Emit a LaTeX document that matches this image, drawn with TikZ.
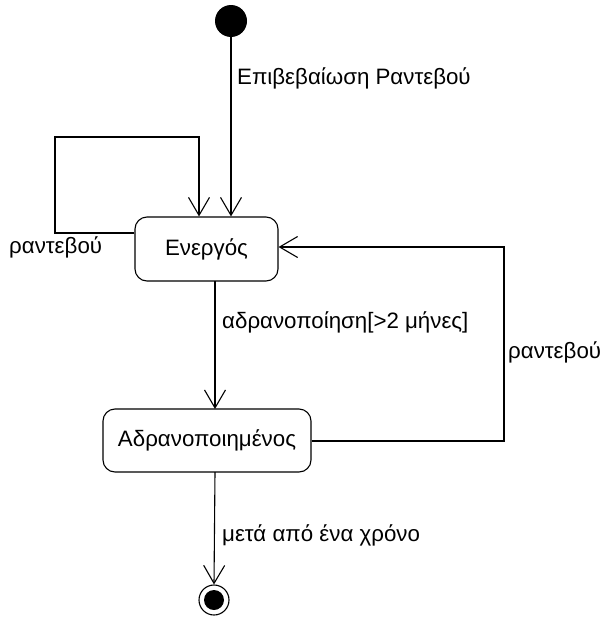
\documentclass[tikz,border=0pt]{standalone}
\usepackage{fontspec}
\setmainfont{Liberation Sans}
\usetikzlibrary{arrows.meta, positioning}

\begin{document}
\begin{tikzpicture}[
  x=1pt, y=-1pt,
  state/.style={draw, rounded corners=12pt, line width=1.1pt, font=\fontsize{22.3}{26}\selectfont, inner sep=0pt},
  lbl/.style={font=\fontsize{22.3}{26}\selectfont, inner sep=0pt},
  arrow/.style={-{Straight Barb[length=18pt, width=21pt, line width=1.1pt]}, line width=1.1pt}
]
  \useasboundingbox (0,0) rectangle (611,624);
  \node[circle, fill=black, minimum size=32pt, inner sep=0pt] (start) at (231,21) {};
  \node[state, minimum width=143pt, minimum height=64pt] (active) at (206.5,249) {Ενεργός};
  \node[state, minimum width=208pt, minimum height=63pt] (idle) at (207,440.5) {Αδρανοποιημένος};
  \node[circle, draw, line width=1.1pt, minimum size=30pt, inner sep=0pt] (end) at (214,600) {};
  \node[circle, fill=black, minimum size=20pt, inner sep=0pt] at (end) {};

  \coordinate (loopA) at (55,233);
  \coordinate (loopB) at (55,137);
  \coordinate (loopC) at (199,137);
  \coordinate (backA) at (504,441);
  \coordinate (backB) at (504,247);

  \draw[arrow] (start) -- (start |- active.north);
  \draw[arrow] (active.west |- loopA) -- (loopA) -- (loopB) -- (loopC) -- (loopC |- active.north);
  \draw[arrow] (215,281) -- (215,409);
  \draw[arrow] (idle.east |- backA) -- (backA) -- (backB) -- (active.east |- backB);
  \draw[arrow] (215,472) -- (end.north);

  \node[lbl, anchor=west] (lconfirm) at (237,78) {Επιβεβαίωση Ραντεβού};
  \node[lbl, anchor=west] (lloop) at (9,247) {ραντεβού};
  \node[lbl, anchor=west] (lidle) at (222,322) {αδρανοποίηση[>2 μήνες]};
  \node[lbl, anchor=west] (lback) at (508,352) {ραντεβού};
  \node[lbl, anchor=west] (lyear) at (222,535) {μετά από ένα χρόνο};
\end{tikzpicture}
\end{document}
